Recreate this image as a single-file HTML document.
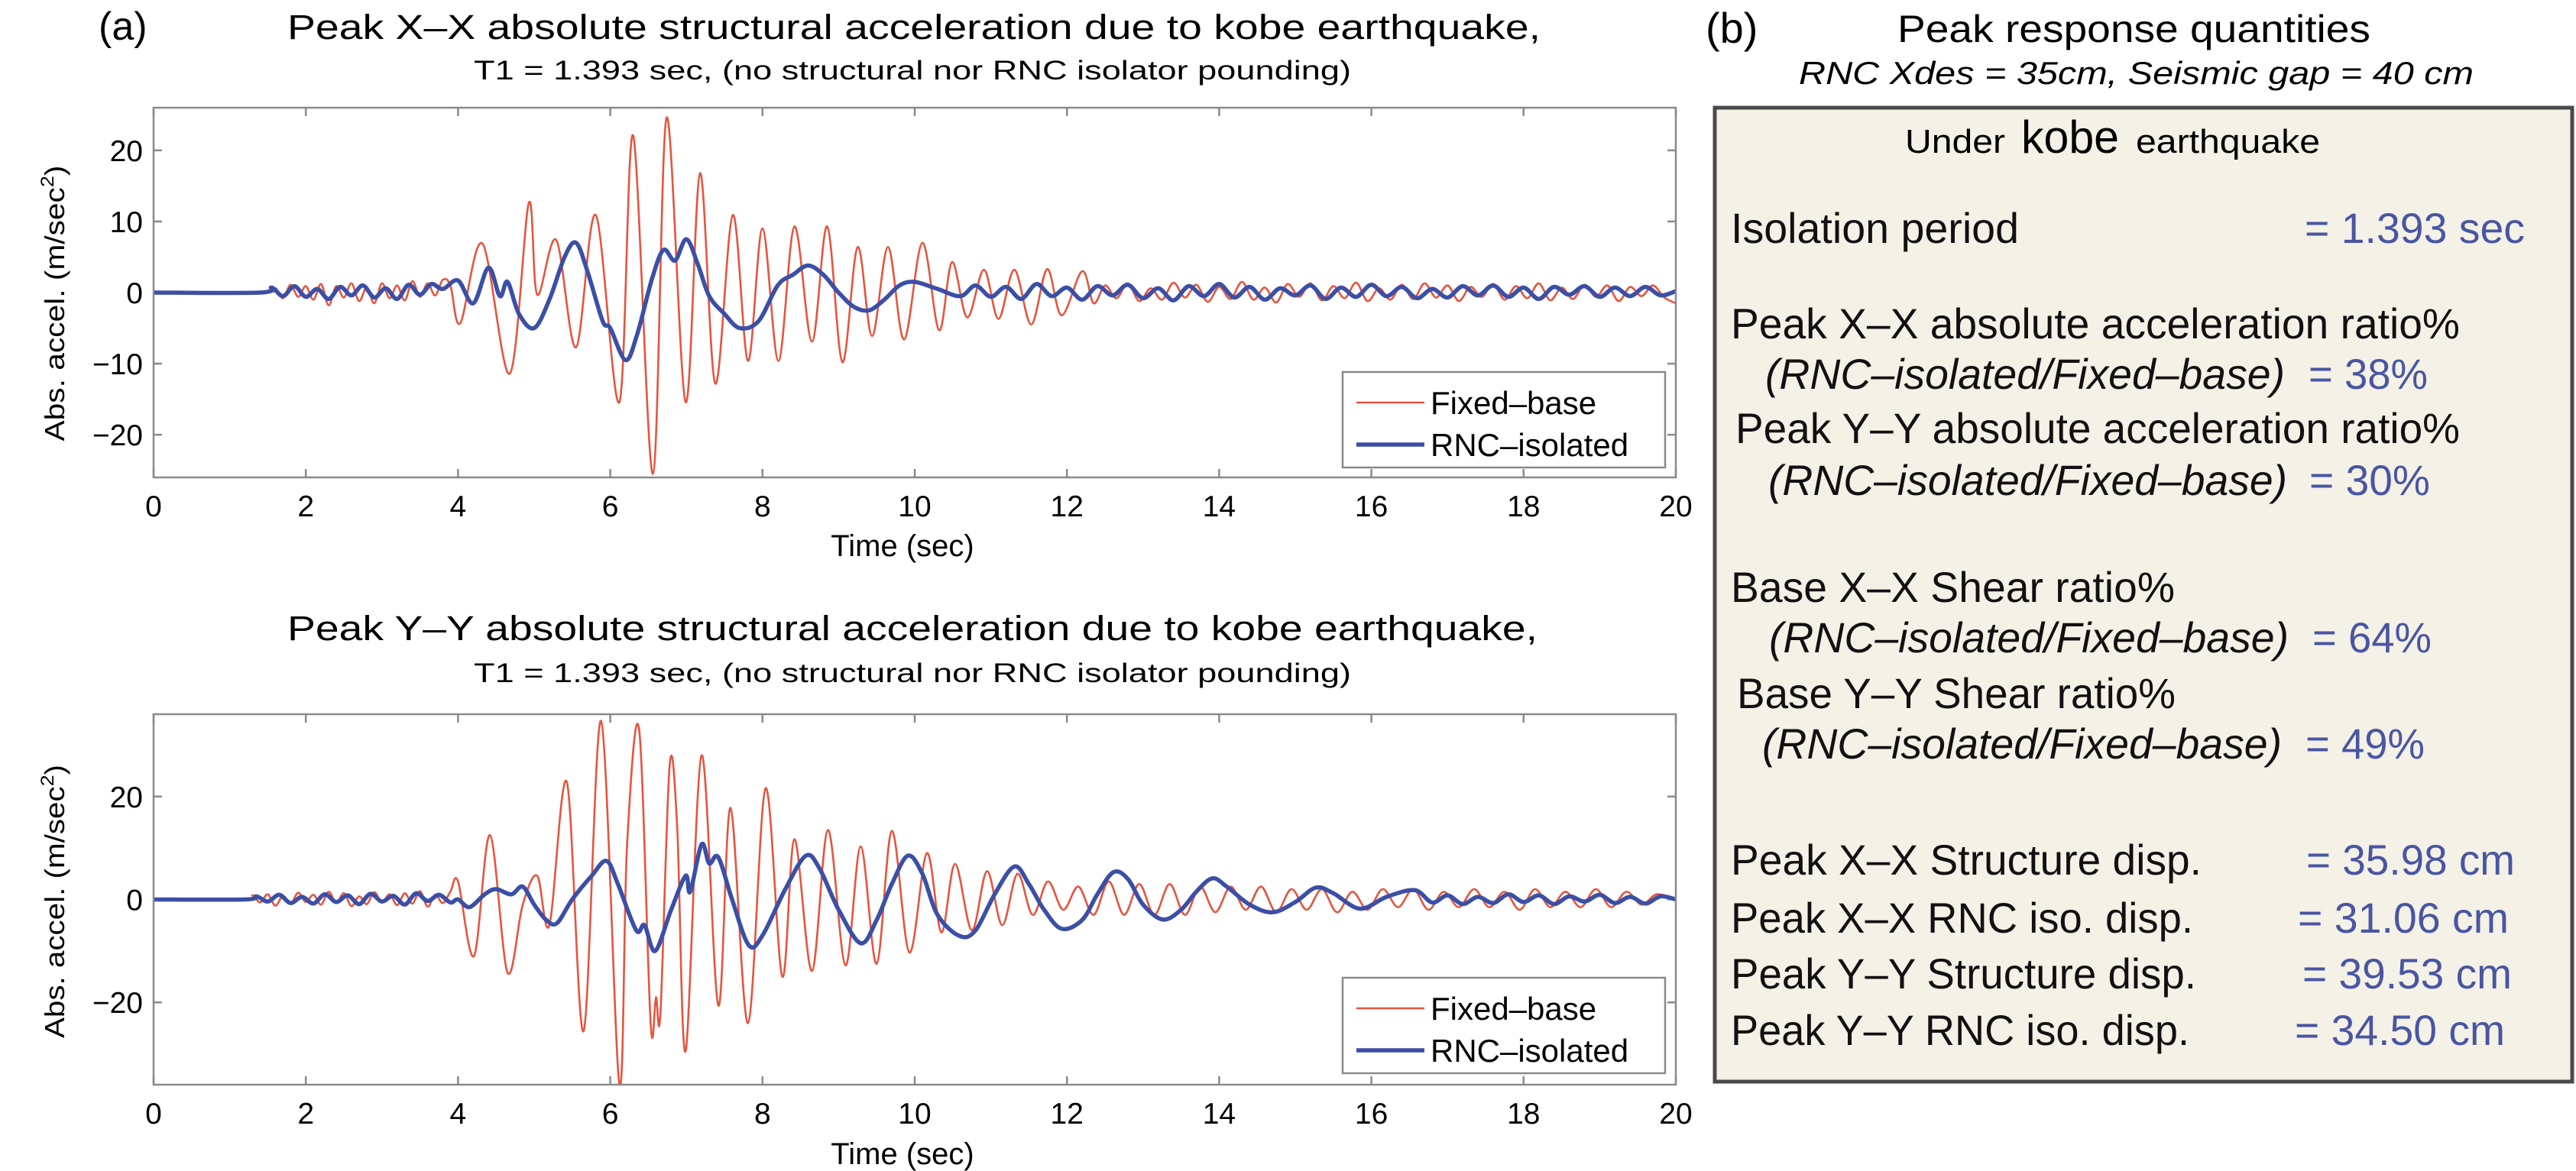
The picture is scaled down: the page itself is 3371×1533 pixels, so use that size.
<!DOCTYPE html>
<html><head><meta charset="utf-8"><style>
html,body{margin:0;padding:0;background:#fff;}
svg{display:block;font-family:"Liberation Sans",sans-serif;}
</style></head><body>
<svg id="fig" width="3371" height="1533" viewBox="0 0 3371 1533" xmlns="http://www.w3.org/2000/svg">
<rect x="0" y="0" width="3371" height="1533" fill="#fff"/>
<text x="129" y="52" font-size="52">(a)</text>
<text x="376" y="51" font-size="45" textLength="1640" lengthAdjust="spacingAndGlyphs">Peak X–X absolute structural acceleration due to kobe earthquake,</text>
<text x="620" y="104" font-size="35" textLength="1148" lengthAdjust="spacingAndGlyphs">T1 = 1.393 sec, (no structural nor RNC isolator pounding)</text>
<text x="376" y="838" font-size="45" textLength="1636" lengthAdjust="spacingAndGlyphs">Peak Y–Y absolute structural acceleration due to kobe earthquake,</text>
<text x="620" y="893" font-size="35" textLength="1148" lengthAdjust="spacingAndGlyphs">T1 = 1.393 sec, (no structural nor RNC isolator pounding)</text>
<text x="1181" y="728" font-size="40" text-anchor="middle">Time (sec)</text>
<text x="1181" y="1524" font-size="40" text-anchor="middle">Time (sec)</text>
<text transform="translate(84,397) rotate(-90)" font-size="36" text-anchor="middle" textLength="361" lengthAdjust="spacingAndGlyphs">Abs. accel. (m/sec<tspan font-size="24" dy="-14">2</tspan><tspan dy="14">)</tspan></text>
<text transform="translate(84,1180) rotate(-90)" font-size="36" text-anchor="middle" textLength="358" lengthAdjust="spacingAndGlyphs">Abs. accel. (m/sec<tspan font-size="24" dy="-14">2</tspan><tspan dy="14">)</tspan></text>
<g id="plots"></g>
<text x="2232" y="56" font-size="56">(b)</text>
<text x="2483" y="55" font-size="50" textLength="619" lengthAdjust="spacingAndGlyphs">Peak response quantities</text>
<text x="2354" y="110" font-size="42" font-style="italic" textLength="883" lengthAdjust="spacingAndGlyphs">RNC Xdes = 35cm, Seismic gap = 40 cm</text>
<g>
<rect x="2244" y="141" width="1122" height="1275" fill="#f4f1e7" stroke="#4a4a4a" stroke-width="5"/>
<text x="2493" y="200" font-size="44" textLength="131" lengthAdjust="spacingAndGlyphs">Under</text>
<text x="2645" y="200" font-size="60" textLength="128" lengthAdjust="spacingAndGlyphs">kobe</text>
<text x="2795" y="200" font-size="44" textLength="241" lengthAdjust="spacingAndGlyphs">earthquake</text>
<g font-size="56" fill="#111">
<text x="2265" y="318" textLength="377" lengthAdjust="spacingAndGlyphs">Isolation period</text>
<text x="3016" y="318" fill="#4a55a2" textLength="288" lengthAdjust="spacingAndGlyphs">= 1.393 sec</text>
<text x="2265" y="443" textLength="954" lengthAdjust="spacingAndGlyphs">Peak X–X absolute acceleration ratio%</text>
<text x="2310" y="509" font-style="italic" textLength="680" lengthAdjust="spacingAndGlyphs">(RNC–isolated/Fixed–base)</text>
<text x="3021" y="509" fill="#4a55a2" textLength="156" lengthAdjust="spacingAndGlyphs">= 38%</text>
<text x="2271" y="580" textLength="948" lengthAdjust="spacingAndGlyphs">Peak Y–Y absolute acceleration ratio%</text>
<text x="2314" y="648" font-style="italic" textLength="679" lengthAdjust="spacingAndGlyphs">(RNC–isolated/Fixed–base)</text>
<text x="3022" y="648" fill="#4a55a2" textLength="158" lengthAdjust="spacingAndGlyphs">= 30%</text>
<text x="2265" y="788" textLength="581" lengthAdjust="spacingAndGlyphs">Base X–X Shear ratio%</text>
<text x="2315" y="854" font-style="italic" textLength="680" lengthAdjust="spacingAndGlyphs">(RNC–isolated/Fixed–base)</text>
<text x="3026" y="854" fill="#4a55a2" textLength="156" lengthAdjust="spacingAndGlyphs">= 64%</text>
<text x="2273" y="927" textLength="574" lengthAdjust="spacingAndGlyphs">Base Y–Y Shear ratio%</text>
<text x="2306" y="993" font-style="italic" textLength="680" lengthAdjust="spacingAndGlyphs">(RNC–isolated/Fixed–base)</text>
<text x="3017" y="993" fill="#4a55a2" textLength="156" lengthAdjust="spacingAndGlyphs">= 49%</text>
<text x="2265" y="1145" textLength="616" lengthAdjust="spacingAndGlyphs">Peak X–X Structure disp.</text>
<text x="3018" y="1145" fill="#4a55a2" textLength="273" lengthAdjust="spacingAndGlyphs">= 35.98 cm</text>
<text x="2265" y="1221" textLength="605" lengthAdjust="spacingAndGlyphs">Peak X–X RNC iso. disp.</text>
<text x="3007" y="1221" fill="#4a55a2" textLength="276" lengthAdjust="spacingAndGlyphs">= 31.06 cm</text>
<text x="2265" y="1294" textLength="609" lengthAdjust="spacingAndGlyphs">Peak Y–Y Structure disp.</text>
<text x="3013" y="1294" fill="#4a55a2" textLength="274" lengthAdjust="spacingAndGlyphs">= 39.53 cm</text>
<text x="2265" y="1368" textLength="600" lengthAdjust="spacingAndGlyphs">Peak Y–Y RNC iso. disp.</text>
<text x="3003" y="1368" fill="#4a55a2" textLength="275" lengthAdjust="spacingAndGlyphs">= 34.50 cm</text>
</g>
</g>
</svg>
<script>
const xTicks = [0,2,4,6,8,10,12,14,16,18,20];
const yTicksX = [20,10,0,-10,-20];
const yTicksY = [20,0,-20];
const seriesNames = ["Fixed–base","RNC–isolated"];

const fxT = [0,1.45,1.6,1.7,1.8,1.9,2.0,2.1,2.2,2.3,2.4,2.5,2.6,2.7,2.8,2.9,3.0,3.1,3.2,3.3,3.4,3.5,3.6,3.7,3.8,3.9,
4.03,4.32,4.68,4.93,5.04,5.29,5.55,5.81,6.12,6.30,6.56,6.74,6.99,7.18,7.38,7.61,7.81,8.0,8.21,8.42,8.65,8.85,9.05,9.25,9.44,9.65,9.86,10.10,10.32,10.49,10.69,10.91,11.10,11.31,11.53,11.74,11.93,12.2,
12.35,12.5,12.65,12.8,12.95,13.1,13.25,13.4,13.55,13.7,13.85,14.0,14.15,14.3,14.45,14.6,14.75,14.9,15.05,15.2,15.35,15.5,15.65,15.8,15.95,16.1,16.25,16.4,16.55,16.7,16.85,17.0,17.15,17.3,17.45,17.6,17.75,17.9,18.05,18.2,18.35,18.5,18.65,18.8,18.95,19.1,19.25,19.4,19.55,19.7,19.85,20];
const fxV = [0,0,0.6,-0.8,1.1,-0.6,0.9,-1.0,1.2,-1.8,0.9,-0.7,1.3,-1.2,0.7,-1.5,1.3,-0.8,1.0,-1.1,1.6,-0.6,1.3,-0.4,1.8,1.0,
-4.3,6.9,-11.4,12.6,-0.3,7.4,-7.7,10.9,-15.4,22.1,-25.5,24.6,-15.4,16.8,-12.8,10.9,-9.6,9.0,-9.6,9.3,-6.9,9.3,-9.8,6.4,-6.1,6.4,-6.6,7.0,-5.3,4.3,-3.5,3.2,-3.7,3.2,-4.5,3.3,-3.2,3.0,
-1.5,1.0,-0.8,1.3,-1.2,0.6,-1.0,1.4,-0.7,1.1,-1.3,0.8,-0.9,1.5,-1.0,0.7,-1.4,1.2,-0.6,1.3,-1.1,0.9,-0.8,1.4,-1.2,0.6,-1.0,1.1,-0.9,1.3,-0.7,1.0,-1.2,0.8,-0.6,1.2,-1.0,0.9,-0.8,1.3,-1.1,0.7,-0.9,1.1,-0.6,1.0,-1.2,0.8,-0.5,1.0,-0.7,-1.5];

const bxT = [0,1.4,1.55,1.7,1.85,2.0,2.15,2.3,2.45,2.6,2.75,2.9,3.05,3.2,3.35,3.5,3.65,3.8,
4.0,4.2,4.4,4.55,4.65,4.8,5.0,5.2,5.4,5.55,5.7,5.9,6.0,6.2,6.35,6.55,6.7,6.85,7.0,7.15,7.3,7.5,7.7,7.95,8.2,8.4,8.6,8.8,9.0,9.2,9.4,9.6,9.8,10.0,10.3,10.6,
10.8,11.0,11.2,11.4,11.6,11.8,12.0,12.2,12.4,12.6,12.8,13.0,13.2,13.4,13.6,13.8,14.0,14.2,14.4,14.6,14.8,15.0,15.2,15.4,15.6,15.8,16.0,16.2,16.4,16.6,16.8,17.0,17.2,17.4,17.6,17.8,18.0,18.2,18.4,18.6,18.8,19.0,19.2,19.4,19.6,19.8,20.0];
const bxV = [0,0,0.7,-0.5,0.9,-0.6,0.5,-0.9,0.8,-0.4,1.0,-0.7,0.6,-0.9,1.1,-0.3,1.2,0.5,
1.7,-1.5,3.5,-0.5,1.5,-3,-5,-1,5,7,3,-4,-5,-9.5,-6,2,6,4.5,7.5,4,-0.5,-3,-5,-4,1,2.5,3.8,2.5,0,-2,-2.5,-1,1,1.5,0.5,-0.5,
1.0,-0.6,0.8,-0.9,1.2,-0.5,0.7,-1.0,0.9,-0.4,1.1,-0.8,0.6,-1.1,0.9,-0.5,1.2,-0.7,0.8,-1.0,0.6,-0.4,1.0,-0.9,0.7,-0.6,1.1,-0.5,0.8,-0.8,0.5,-0.7,0.9,-0.4,1.0,-0.6,0.7,-0.9,0.8,-0.3,0.9,-0.6,0.7,-0.5,0.8,-0.4,0.2];

const fyT = [0,1.2,1.3,1.4,1.5,1.6,1.7,1.8,1.9,2.0,2.1,2.2,2.3,2.4,2.5,2.6,2.7,2.8,2.9,3.0,3.1,3.2,3.3,3.4,3.5,3.6,3.7,3.8,3.9,
4.0,4.21,4.42,4.65,4.85,5.04,5.2,5.43,5.65,5.88,6.12,6.22,6.38,6.53,6.6,6.66,6.78,6.88,6.99,7.2,7.42,7.58,7.81,8.04,8.26,8.42,8.65,8.86,9.09,9.29,9.5,9.7,9.93,10.16,10.35,10.53,10.75,10.95,11.15,11.35,11.55,11.75,11.95,12.15,12.35,12.55,12.75,12.95,13.15,13.35,13.55,13.75,13.95,14.15,14.35,14.55,14.75,14.95,15.15,15.35,15.55,15.75,15.95,16.15,16.35,16.55,16.75,16.95,17.15,17.35,17.55,17.75,17.95,18.15,18.35,18.55,18.75,18.95,19.15,19.35,19.55,19.75,20];
const fyV = [0,0,0.8,-0.6,1.0,-1.2,0.7,-0.8,1.3,-0.5,0.9,-1.0,1.5,-0.7,1.2,-1.3,0.6,-0.9,1.4,-0.6,1.0,-1.1,1.2,-0.8,1.6,-1.4,0.9,-0.7,1.5,
3.5,-11,12.5,-14.2,-1,4.6,-5,22.8,-25.6,34.7,-36,10.3,33,-24,-19,-22,26,14,-29.5,28,-20.6,17.8,-24,21.6,-15,11.7,-13.9,13.5,-12.8,10.3,-12.5,13.3,-10.3,9,-6.4,6.9,-6,5.5,-5,5,-3,3.5,-2,2.5,-3,3.5,-3,3,-3,3,-3,2.5,-2.5,2.5,-2,2.5,-2.5,2,-2,2,-2.5,1.5,-2,2,-1.5,2,-2,1.5,-1.5,2,-1.5,1.5,-2,2,-1.5,1.5,-1.5,2,-1.5,1.5,-1,1,0];

const byT = [0,1.2,1.35,1.5,1.65,1.8,1.95,2.1,2.25,2.4,2.55,2.7,2.85,3.0,3.15,3.3,3.45,3.6,3.75,3.9,
4.0,4.15,4.35,4.5,4.7,4.85,5.0,5.16,5.3,5.5,5.75,5.95,6.1,6.34,6.45,6.59,6.8,6.99,7.05,7.2,7.3,7.42,7.6,7.82,8.0,8.3,8.57,8.75,9.0,9.29,9.5,9.7,9.91,10.1,10.3,10.59,10.8,11.05,11.31,11.5,11.7,11.93,12.2,12.4,12.61,12.8,13.0,13.26,13.5,13.7,13.91,14.1,14.4,14.7,15.0,15.27,15.5,15.85,16.2,16.57,
16.8,17.0,17.2,17.4,17.6,17.8,18.0,18.2,18.4,18.6,18.8,19.0,19.2,19.4,19.6,19.8,20.0];
const byV = [0,0,0.6,-0.4,0.9,-0.7,0.5,-0.8,1.0,-0.5,0.8,-0.9,1.1,-0.4,0.7,-1.0,1.2,-0.3,0.9,-0.6,
0,-1.5,1,2,1,2.5,-1,-4,-4.6,0,4.5,7.5,3,-6,-5,-10,-2,4.6,1.5,10.7,7,8.2,0,-8.9,-7,2,8.5,6,-2,-8.5,-4,3,8.5,5,-3,-7.1,-6,1,6.4,3,-2,-5.7,-4,1,5.3,4,-1,-3.9,-2,1.5,4.1,2.5,-1,-2.5,-0.5,2.3,1.2,-1.8,0.5,1.8,
-0.6,0.8,-0.9,0.5,-0.7,1.0,-0.5,0.8,-0.9,0.6,-0.4,0.9,-0.7,0.5,-0.8,0.6,0];

const NS = "http://www.w3.org/2000/svg";
const root = document.getElementById("plots");
function mk(tag, attrs, parent){
  const e = document.createElementNS(NS, tag);
  for (const k in attrs) e.setAttribute(k, attrs[k]);
  parent.appendChild(e);
  return e;
}
function smoothPath(pts){
  let d = "M" + pts[0][0].toFixed(1) + "," + pts[0][1].toFixed(1);
  for (let i = 0; i < pts.length - 1; i++){
    const p0 = pts[Math.max(0, i - 1)], p1 = pts[i], p2 = pts[i + 1], p3 = pts[Math.min(pts.length - 1, i + 2)];
    const c1x = p1[0] + (p2[0] - p0[0]) / 6, c1y = p1[1] + (p2[1] - p0[1]) / 6;
    const c2x = p2[0] - (p3[0] - p1[0]) / 6, c2y = p2[1] - (p3[1] - p1[1]) / 6;
    d += "C" + c1x.toFixed(1) + "," + c1y.toFixed(1) + " " + c2x.toFixed(1) + "," + c2y.toFixed(1) + " " + p2[0].toFixed(1) + "," + p2[1].toFixed(1);
  }
  return d;
}
function drawPlot(key, cfg, yTicks, fT, fV, bT, bV){
  const g = mk("g", {}, root);
  
  
  const xs = t => cfg.x0 + t / 20 * (cfg.x1 - cfg.x0);
  const ys = v => cfg.y0 + (cfg.ymax - v) / (2 * cfg.ymax) * (cfg.y1 - cfg.y0);
  const clip = mk("clipPath", {id: "clip-" + key}, g);
  mk("rect", {x: cfg.x0, y: cfg.y0, width: cfg.x1 - cfg.x0, height: cfg.y1 - cfg.y0}, clip);
  xTicks.forEach(t => {
    const x = xs(t);
    const a = mk("line", {x1: x, x2: x, y1: cfg.y1, y2: cfg.y1 - 11, stroke: "#8a8a8a", "stroke-width": 2.5}, g);
    
    
    const b = mk("line", {x1: x, x2: x, y1: cfg.y0, y2: cfg.y0 + 11, stroke: "#8a8a8a", "stroke-width": 2.5}, g);
    
    
    const l = mk("text", {x: x, y: cfg.y1 + 51, "font-size": 39, "text-anchor": "middle"}, g);
    l.textContent = t;
    
    
  });
  yTicks.forEach(v => {
    const y = ys(v);
    const a = mk("line", {x1: cfg.x0, x2: cfg.x0 + 11, y1: y, y2: y, stroke: "#8a8a8a", "stroke-width": 2.5}, g);
    
    
    const b = mk("line", {x1: cfg.x1, x2: cfg.x1 - 11, y1: y, y2: y, stroke: "#8a8a8a", "stroke-width": 2.5}, g);
    
    
    const l = mk("text", {x: cfg.x0 - 14, y: y + 14, "font-size": 39, "text-anchor": "end"}, g);
    l.textContent = v < 0 ? "\u2212" + (-v) : v;
    
    
  });
  const dF = smoothPath(fT.map((t, i) => [xs(t), ys(fV[i])]));
  const pf = mk("path", {d: dF, fill: "none", stroke: "#e4553f", "stroke-width": 2.6, "stroke-linejoin": "round", "clip-path": "url(#clip-" + key + ")"}, g);
  
  
  const dB = smoothPath(bT.map((t, i) => [xs(t), ys(bV[i])]));
  const pb = mk("path", {d: dB, fill: "none", stroke: "#3b4fa6", "stroke-width": 5.5, "stroke-linejoin": "round", "clip-path": "url(#clip-" + key + ")"}, g);
  
  
  const fr = mk("rect", {x: cfg.x0, y: cfg.y0, width: cfg.x1 - cfg.x0, height: cfg.y1 - cfg.y0, fill: "none", stroke: "#8a8a8a", "stroke-width": 2.5}, g);
  
  
  const lg = mk("g", {}, g);
  
  
  mk("rect", {x: 1757, y: cfg.ly, width: 422, height: 125, fill: "#fff", stroke: "#8a8a8a", "stroke-width": 2.5}, lg);
  const cols = ["#e4553f", "#3b4fa6"], widths = [2.6, 5.5];
  seriesNames.forEach((n, i) => {
    const yy = cfg.ly + 40 + i * 55;
    const ln = mk("line", {x1: 1775, x2: 1864, y1: yy, y2: yy, stroke: cols[i], "stroke-width": widths[i]}, lg);
    
    
    const tx = mk("text", {x: 1872, y: yy + 15, "font-size": 42}, lg);
    tx.textContent = n;
    
    
  });
}
drawPlot("x-accel", {x0: 201, x1: 2193, y0: 141, y1: 625, ymax: 26, ly: 487}, yTicksX, fxT, fxV, bxT, bxV);
drawPlot("y-accel", {x0: 201, x1: 2193, y0: 935, y1: 1420, ymax: 36, ly: 1280}, yTicksY, fyT, fyV, byT, byV);
</script>
</body></html>
